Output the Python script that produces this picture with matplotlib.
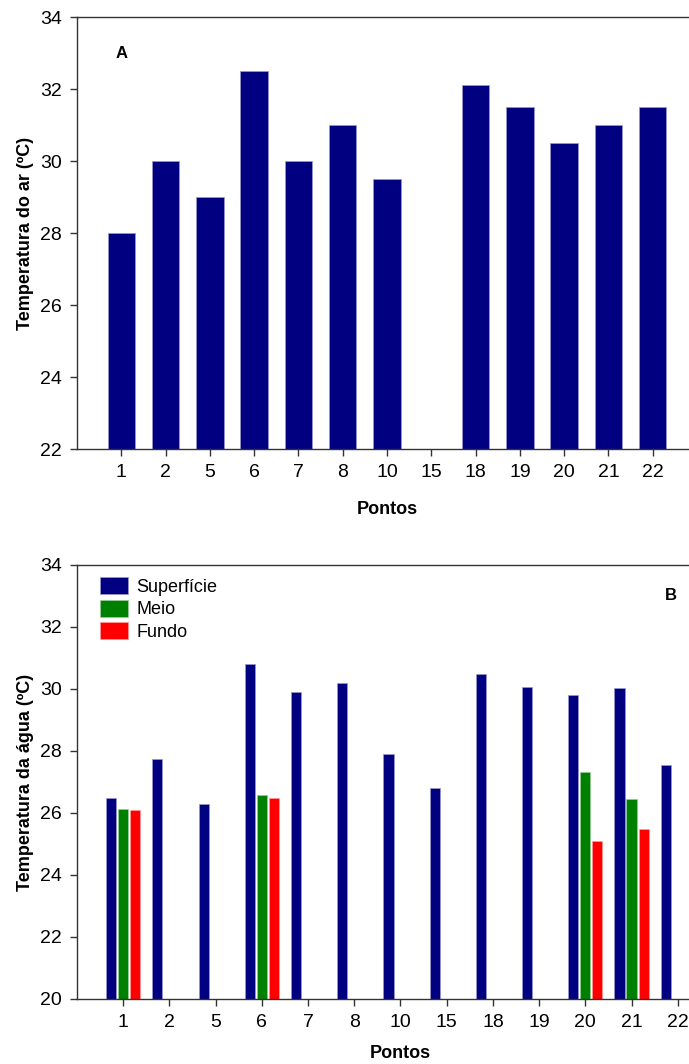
import numpy as np
import matplotlib
matplotlib.use("Agg")
import matplotlib.pyplot as plt

pontos = ["1", "2", "5", "6", "7", "8", "10", "15", "18", "19", "20", "21", "22"]
nan = np.nan

# painel A - temperatura do ar
temp_ar = [28.0, 30.0, 29.0, 32.5, 30.0, 31.0, 29.5, nan, 32.1, 31.5, 30.5, 31.0, 31.5]

# painel B - temperatura da agua
superficie = [26.48, 27.74, 26.3, 30.8, 29.9, 30.2, 27.9, 26.8, 30.5, 30.06, 29.8, 30.04, 27.55]
meio = [26.13, nan, nan, 26.58, nan, nan, nan, nan, nan, nan, 27.33, 26.45, nan]
fundo = [26.1, nan, nan, 26.5, nan, nan, nan, nan, nan, nan, 25.1, 25.5, nan]

NAVY = "#000080"
GREEN = "#008000"
RED = "#ff0000"

tick_font = ["Liberation Sans Narrow", "Liberation Sans", "DejaVu Sans"]
label_font = ["Liberation Sans", "DejaVu Sans"]


def style_axes(ax, ylim, yticks):
    ax.set_xlim(0, len(pontos) + 1)
    ax.set_ylim(*ylim)
    ax.set_yticks(yticks)
    ax.set_xticks(np.arange(1, len(pontos) + 1))
    ax.set_xticklabels(pontos)
    ax.spines["right"].set_visible(False)
    for s in ("left", "bottom", "top"):
        ax.spines[s].set_color("#333333")
        ax.spines[s].set_linewidth(1.0)
    ax.tick_params(direction="out", length=5, width=1, color="#333333", pad=6)
    for lab in ax.get_xticklabels() + ax.get_yticklabels():
        lab.set_family(tick_font)
        lab.set_fontsize(14)


fig = plt.figure(figsize=(6.89, 10.64), dpi=100)

# ---- painel A
ax_a = fig.add_axes([77 / 689, 1 - 449 / 1064, 620 / 689, 432 / 1064])
x = np.arange(1, len(pontos) + 1)
ax_a.bar(x, temp_ar, width=0.62, color=NAVY, edgecolor="#9999cc", linewidth=0.5)
style_axes(ax_a, (22, 34), np.arange(22, 35, 2))
ax_a.set_ylabel("Temperatura do ar (ºC)", family=label_font, fontsize=13,
                fontweight="bold", labelpad=4)
ax_a.set_xlabel("Pontos", family=label_font, fontsize=13, fontweight="bold", labelpad=14)
ax_a.text(1, 33.0, "A", family=label_font, fontsize=12, fontweight="bold",
          ha="center", va="center")

# ---- painel B
ax_b = fig.add_axes([77 / 689, 1 - 999 / 1064, 647 / 689, 434 / 1064])
w = 0.22
off = 0.26
ax_b.bar(x - off, superficie, width=w, color=NAVY, edgecolor="#9999cc", linewidth=0.5,
         label="Superfície")
ax_b.bar(x, meio, width=w, color=GREEN, edgecolor="#99cc99", linewidth=0.5, label="Meio")
ax_b.bar(x + off, fundo, width=w, color=RED, edgecolor="#ff9999", linewidth=0.5, label="Fundo")
style_axes(ax_b, (20, 34), np.arange(20, 35, 2))
ax_b.set_ylabel("Temperatura da água (ºC)", family=label_font, fontsize=13,
                fontweight="bold", labelpad=4)
ax_b.set_xlabel("Pontos", family=label_font, fontsize=13, fontweight="bold", labelpad=10)
ax_b.text(12.86, 33.0, "B", family=label_font, fontsize=12, fontweight="bold",
          ha="center", va="center")
ax_b.legend(loc="upper left", bbox_to_anchor=(0.035, 0.972), frameon=False,
            borderaxespad=0, borderpad=0, handlelength=1.55, handleheight=1.1,
            labelspacing=0.2, handletextpad=0.5,
            prop={"family": tick_font, "size": 13})

fig.savefig("out.png", dpi=100)
